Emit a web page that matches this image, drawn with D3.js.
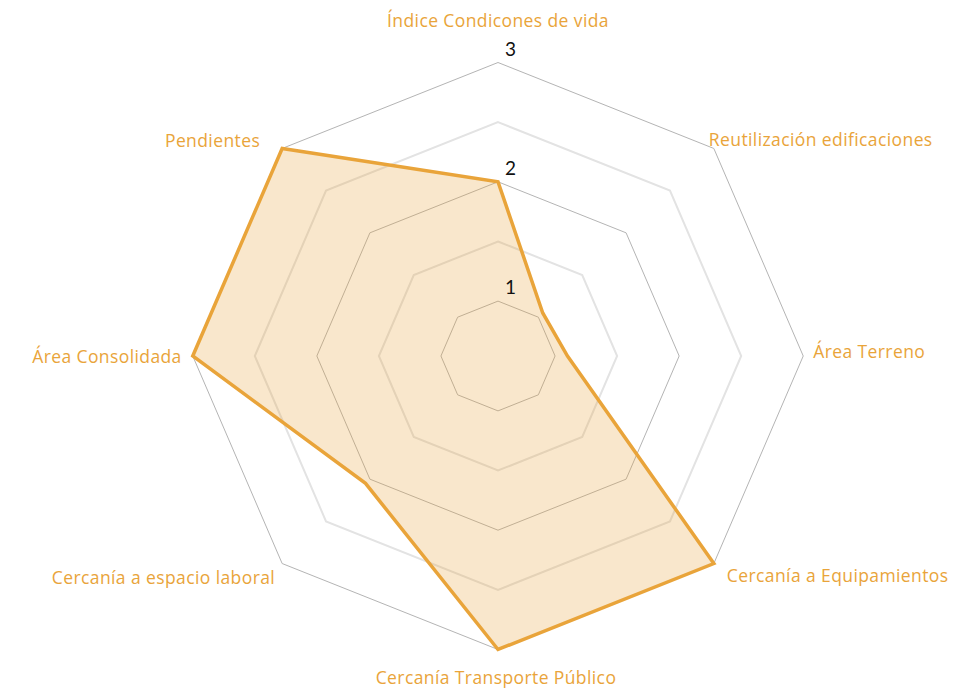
<!DOCTYPE html>
<html>
<head>
<meta charset="utf-8">
<script src="https://cdn.jsdelivr.net/npm/d3@7"></script>
<style>
  html, body { margin: 0; padding: 0; background: #fff; }
  svg { display: block; }
</style>
</head>
<body>
<svg id="chart" width="958" height="693"></svg>
<script>
// Radar chart: one series over eight criteria
const axes = [
  "Índice Condicones de vida",
  "Reutilización edificaciones",
  "Área Terreno",
  "Cercanía a Equipamientos",
  "Cercanía Transporte Público",
  "Cercanía a espacio laboral",
  "Área Consolidada",
  "Pendientes"
];
const values = [2, 1.05, 1.1, 3, 3, 2.05, 3, 3];
const gridLevels = [1, 1.5, 2, 2.5, 3];
const tickLabels = [1, 2, 3];

const svg = d3.select("#chart");
const cx = 498, cy = 356;
const stretchX = 1.04;          // plot is slightly wider than tall
const r = d3.scaleLinear().domain([0.54, 3]).range([0, 293.5]);
const angle = d3.scaleLinear().domain([0, axes.length]).range([0, 2 * Math.PI]);

const pos = (i, v) => {
  const a = angle(i);
  return [cx + Math.sin(a) * r(v) * stretchX, cy - Math.cos(a) * r(v)];
};

const orange = "#E9A43A";

// grid octagons
const g = svg.append("g");
g.selectAll("polygon.grid")
  .data(gridLevels)
  .join("polygon")
  .attr("class", "grid")
  .attr("points", lv => axes.map((_, i) => pos(i, lv).join(",")).join(" "))
  .attr("fill", "none")
  .attr("stroke", lv => Number.isInteger(lv) ? "#b4b4b4" : "#e3e3e3")
  .attr("stroke-width", lv => Number.isInteger(lv) ? 1 : 2);

// data area
svg.append("path")
  .datum(values)
  .attr("d", d3.line().curve(d3.curveLinearClosed)
    .x((v, i) => pos(i, v)[0])
    .y((v, i) => pos(i, v)[1]))
  .attr("fill", orange)
  .attr("fill-opacity", 0.26)
  .attr("stroke", orange)
  .attr("stroke-width", 3.5)
  .attr("stroke-linejoin", "miter");

// value ticks along the top axis
svg.selectAll("text.tick")
  .data(tickLabels)
  .join("text")
  .attr("class", "tick")
  .attr("x", v => pos(0, v)[0] + 7)
  .attr("y", v => pos(0, v)[1] - 7)
  .attr("font-family", "Lato, 'Noto Sans', sans-serif")
  .attr("font-size", 19)
  .attr("fill", "#111")
  .text(v => v);

// axis labels, placed just outside the outer ring
const labelOffsets = [
  { dx: 0, dy: -36, anchor: "middle" },
  { dx: -5, dy: -2, anchor: "start" },
  { dx: 10, dy: 2, anchor: "start" },
  { dx: 13, dy: 18, anchor: "start" },
  { dx: -2, dy: 34, anchor: "middle" },
  { dx: -7, dy: 20, anchor: "end" },
  { dx: -11, dy: 7, anchor: "end" },
  { dx: -22, dy: -1, anchor: "end" }
];
svg.selectAll("text.axis-label")
  .data(axes)
  .join("text")
  .attr("class", "axis-label")
  .attr("x", (d, i) => pos(i, 3)[0] + labelOffsets[i].dx)
  .attr("y", (d, i) => pos(i, 3)[1] + labelOffsets[i].dy)
  .attr("text-anchor", (d, i) => labelOffsets[i].anchor)
  .attr("font-family", "'Open Sans', Lato, sans-serif")
  .attr("font-size", 17.5)
  .attr("letter-spacing", 0.4)
  .attr("fill", orange)
  .text(d => d);
</script>
</body>
</html>
